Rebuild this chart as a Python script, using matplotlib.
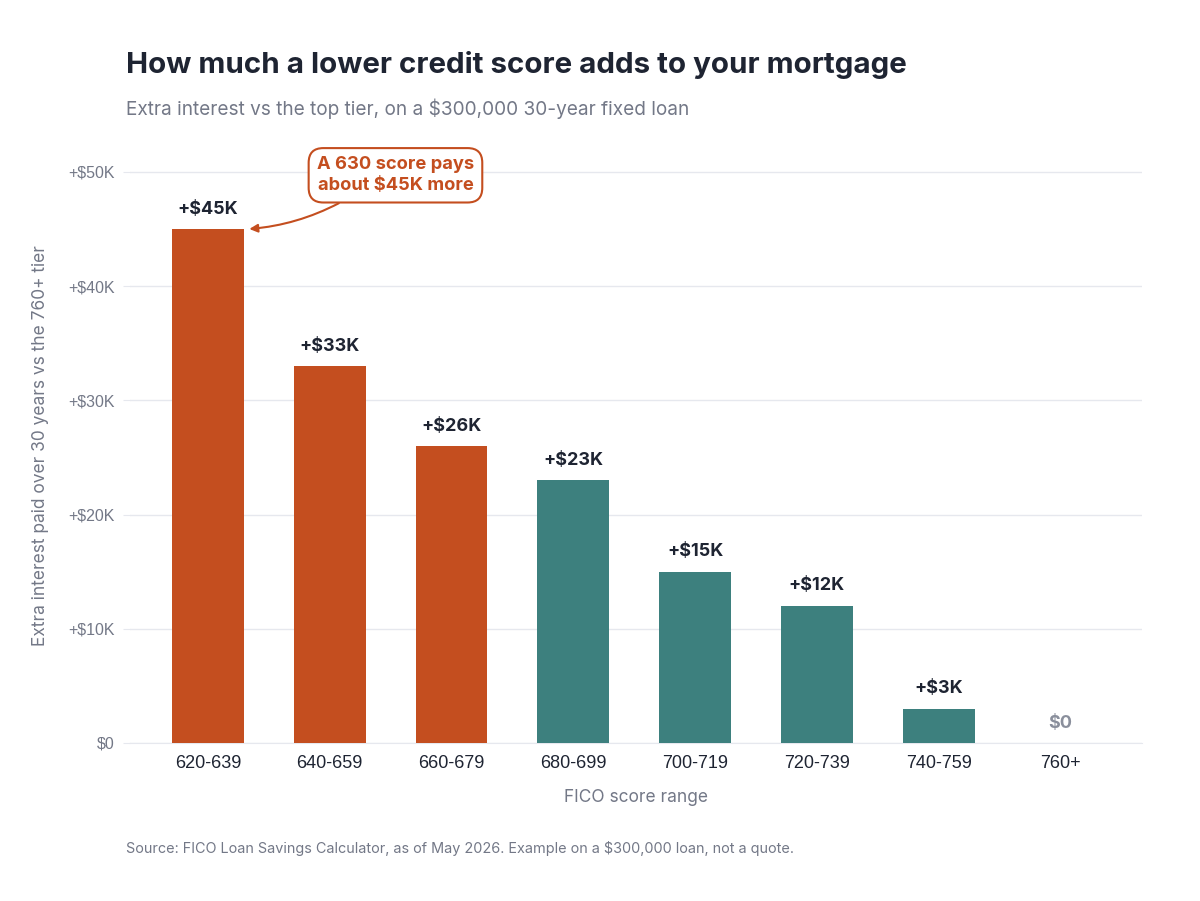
import matplotlib.pyplot as plt
import numpy as np

# FICO tiers and extra interest vs the 760+ tier
ranges = ["620-639", "640-659", "660-679", "680-699", "700-719", "720-739", "740-759", "760+"]
extra = [45000, 33000, 26000, 23000, 15000, 12000, 3000, 0]
labels = ["+$45K", "+$33K", "+$26K", "+$23K", "+$15K", "+$12K", "+$3K", "$0"]
highlight = [True, True, True, False, False, False, False, False]
yticks = [0, 10000, 20000, 30000, 40000, 50000]
ytick_labels = ["$0", "+$10K", "+$20K", "+$30K", "+$40K", "+$50K"]

ORANGE = "#c44e1f"
TEAL = "#3d807e"
DARK = "#1e2432"
GRAY = "#737887"
GRID = "#e6e8ee"

plt.rcParams['font.family'] = ['Inter', 'DejaVu Sans']

fig = plt.figure(figsize=(12, 9.01), dpi=100)
ax = fig.add_axes([0.1083, 0.1754, 0.8434, 0.6592])

x = np.arange(len(ranges))
colors = [ORANGE if h else TEAL for h in highlight]
ax.bar(x, extra, width=0.59, color=colors, zorder=3)

for xi, v, lab in zip(x, extra, labels):
    if v > 0:
        ax.text(xi, v + 1000, lab, ha='center', va='bottom', fontsize=13,
                fontweight='bold', color=DARK)
    else:
        ax.text(xi, v + 1000, lab, ha='center', va='bottom', fontsize=13,
                fontweight='bold', color="#8a8f9c")

ax.set_xlim(-0.64, 7.67)
ax.set_ylim(0, 52000)
ax.set_yticks(yticks)
ax.set_yticklabels(ytick_labels, fontsize=11.5, color=GRAY, family='Liberation Sans')
ax.set_xticks(x)
ax.set_xticklabels(ranges, fontsize=13, color=DARK, family='Liberation Sans')
ax.tick_params(axis='y', length=5, color=GRID, pad=6)
ax.tick_params(axis='x', length=0, pad=9)
ax.grid(axis='y', color=GRID, linewidth=1, zorder=0)
for s in ['top', 'right', 'left']:
    ax.spines[s].set_visible(False)
ax.spines['bottom'].set_color(GRID)

ax.set_ylabel("Extra interest paid over 30 years vs the 760+ tier", fontsize=12.5,
              color=GRAY, labelpad=14)
ax.set_xlabel("FICO score range", fontsize=12.5, color=GRAY, labelpad=12)

# callout for the 620-639 bar
ax.annotate("A 630 score pays\nabout $45K more", xy=(0.34, 45000), xytext=(1.54, 49700),
            ha='center', va='center', fontsize=13.2, fontweight='bold', color=ORANGE,
            linespacing=1.3, annotation_clip=False, zorder=5,
            bbox=dict(boxstyle="round,pad=0.45,rounding_size=0.8", fc='white',
                      ec=ORANGE, lw=1.5),
            arrowprops=dict(arrowstyle='-|>', color=ORANGE, lw=1.5, relpos=(0.24, 0),
                            connectionstyle="arc3,rad=-0.12", shrinkA=0,
                            shrinkB=0, mutation_scale=12))

fig.text(0.105, 0.928, "How much a lower credit score adds to your mortgage",
         fontsize=21.3, fontweight='bold', color=DARK, va='center')
fig.text(0.105, 0.879, "Extra interest vs the top tier, on a $300,000 30-year fixed loan",
         fontsize=13.7, color=GRAY, va='center')
fig.text(0.105, 0.058, "Source: FICO Loan Savings Calculator, as of May 2026. "
         "Example on a $300,000 loan, not a quote.", fontsize=10.4, color=GRAY, va='center')

fig.savefig("out.png", dpi=100, facecolor='white')
